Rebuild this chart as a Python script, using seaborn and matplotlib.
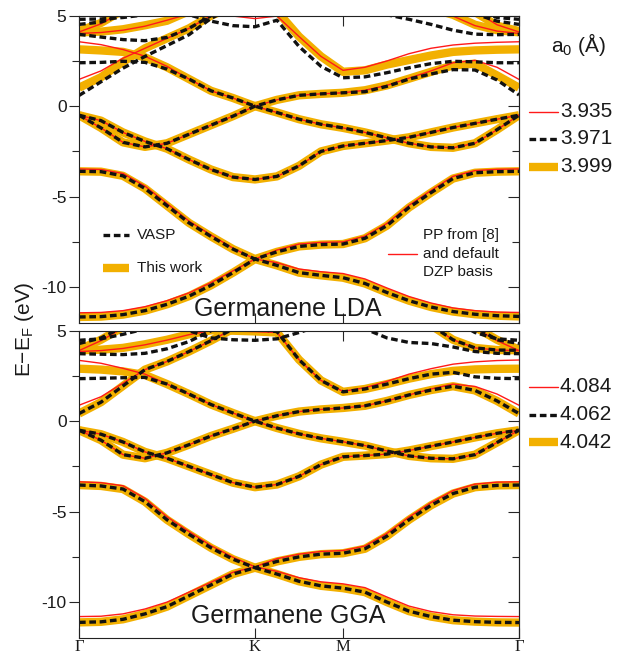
import numpy as np
import pandas as pd
import matplotlib
matplotlib.use("Agg")
import matplotlib.pyplot as plt
import seaborn as sns
from matplotlib.lines import Line2D
from matplotlib.ticker import MultipleLocator

# ---------------- data ----------------
K_PATH = [0.0, 0.25, 0.5, 0.75, 1.0, 1.25, 1.5, 1.75, 2.0, 2.25, 2.5,
          2.75, 3.0, 3.25, 3.5, 3.75, 4.0, 4.25, 4.5, 4.75, 5.0]
K_TICKS = [0, 2, 3, 5]
K_LABELS = ["Γ", "K", "M", "Γ"]
Y_TICKS = [-10, -5, 0, 5]
Y_LABELS = ["-10", "-5", "0", "5"]

# ---- Germanene LDA : "This work" (orange) ----
LW_A = [-11.65, -11.63, -11.52, -11.30, -10.95, -10.50, -9.90, -9.20, -8.45, -8.80, -9.20,
        -9.35, -9.48, -9.80, -10.30, -10.75, -11.10, -11.35, -11.50, -11.58, -11.62]
LW_B = [-3.60, -3.62, -3.85, -4.55, -5.50, -6.45, -7.20, -7.90, -8.45, -8.05, -7.75,
        -7.65, -7.62, -7.30, -6.60, -5.60, -4.78, -4.00, -3.68, -3.62, -3.60]
LW_X = [-0.50, -0.80, -1.45, -1.95, -2.35, -2.95, -3.50, -3.92, -4.05, -3.88, -3.30,
        -2.50, -2.20, -2.05, -1.90, -1.72, -1.45, -1.18, -0.95, -0.72, -0.50]
LW_Y = [-0.50, -1.20, -2.00, -2.25, -2.05, -1.55, -1.05, -0.55, 0.00, 0.35, 0.60,
        0.68, 0.74, 0.88, 1.15, 1.52, 1.90, 2.25, 2.35, 1.70, 1.02]
LW_Z = [3.14, 3.08, 3.00, 2.70, 2.15, 1.50, 0.85, 0.45, 0.00, -0.35, -0.72,
        -1.00, -1.20, -1.45, -1.75, -2.05, -2.25, -2.30, -2.05, -1.30, -0.50]
LW_C2 = [1.02, 1.60, 2.45, 3.20, 3.75, 4.30, 5.00, 5.50, 5.80, 6.00, 6.00,
         6.00, 6.00, 6.00, 6.00, 5.80, 5.40, 5.05, 4.50, 4.20, 4.08]
LW_C3 = [4.08, 4.12, 4.25, 4.47, 4.72, 5.25, 5.25, 5.25, 5.25, 5.25, 3.85,
         2.75, 1.90, 1.98, 2.30, 2.55, 2.80, 3.00, 3.08, 3.12, 3.14]
LW_C4 = [4.15, 4.60, 5.30, 6.00, 6.00, 6.00, 6.00, 6.00, 6.00, 6.00, 6.00,
         6.00, 6.00, 6.00, 6.00, 6.00, 6.00, 6.00, 5.20, 4.45, 4.15]

# ---- Germanene LDA : VASP (black dashed) ----
LV_Z = [2.40, 2.42, 2.48, 2.42, 2.05, 1.50, 0.85, 0.45, 0.00, -0.35, -0.72,
        -1.00, -1.20, -1.45, -1.75, -2.05, -2.25, -2.30, -2.05, -1.30, -0.50]
LV_Y = [-0.50, -1.20, -2.00, -2.25, -2.05, -1.55, -1.05, -0.55, 0.00, 0.35, 0.60,
        0.68, 0.74, 0.80, 1.10, 1.50, 1.78, 2.02, 2.00, 1.45, 0.62]
LV_C2 = [0.59, 1.35, 2.10, 2.75, 3.35, 3.95, 4.85, 5.50, 5.80, 6.00, 6.00,
         6.00, 6.00, 5.60, 5.05, 4.80, 4.52, 4.20, 3.98, 3.95, 3.97]
LV_C3 = [4.80, 4.82, 4.90, 5.05, 5.10, 5.05, 4.70, 4.45, 4.39, 4.75, 3.30,
         2.20, 1.57, 1.62, 1.85, 2.12, 2.35, 2.48, 2.45, 2.40, 2.40]
LV_C4 = [3.97, 3.82, 3.68, 3.62, 3.80, 4.30, 5.00, 5.50, 5.80, 6.00, 6.00,
         6.00, 6.00, 6.00, 6.00, 6.00, 6.00, 5.60, 5.10, 4.70, 4.52]
LV_C5 = [4.52, 4.65, 5.05, 5.50, 6.00, 6.00, 6.00, 6.00, 6.00, 6.00, 6.00,
         6.00, 6.00, 6.00, 6.00, 6.00, 6.00, 6.00, 5.40, 4.90, 4.80]

# ---- Germanene LDA : PP from [8] + DZP (red) ----
LR_A = [-11.42, -11.40, -11.30, -11.08, -10.75, -10.32, -9.75, -9.10, -8.45, -8.65, -9.00,
        -9.15, -9.25, -9.55, -10.05, -10.52, -10.88, -11.15, -11.30, -11.38, -11.40]
LR_B = [-3.47, -3.50, -3.72, -4.42, -5.38, -6.35, -7.12, -7.85, -8.45, -7.95, -7.62,
        -7.53, -7.50, -7.18, -6.48, -5.48, -4.66, -3.88, -3.56, -3.49, -3.47]
LR_Y = [-0.50, -1.20, -2.00, -2.25, -2.05, -1.55, -1.05, -0.55, 0.00, 0.35, 0.60,
        0.68, 0.74, 0.88, 1.15, 1.55, 1.95, 2.40, 2.53, 2.15, 1.48]
LR_Z = [3.56, 3.40, 3.13, 2.76, 2.20, 1.50, 0.85, 0.45, 0.00, -0.35, -0.72,
        -1.00, -1.20, -1.45, -1.75, -2.05, -2.25, -2.30, -2.05, -1.30, -0.50]
LR_C2 = [1.48, 1.95, 2.65, 3.20, 3.75, 4.30, 5.00, 5.50, 5.80, 6.00, 6.00,
         6.00, 6.00, 6.00, 6.00, 5.80, 5.40, 4.98, 4.45, 4.15, 4.02]
LR_C3 = [4.02, 4.07, 4.20, 4.42, 4.75, 5.10, 5.15, 4.98, 4.84, 4.98, 3.85,
         2.75, 1.98, 2.15, 2.50, 2.90, 3.20, 3.38, 3.48, 3.53, 3.56]
LR_C4 = [4.10, 4.55, 5.25, 6.00, 6.00, 6.00, 6.00, 6.00, 6.00, 6.00, 6.00,
         6.00, 6.00, 6.00, 6.00, 6.00, 6.00, 6.00, 5.25, 4.50, 4.10]

# ---- Germanene GGA : "This work" (orange) ----
GW_A = [-11.12, -11.09, -10.95, -10.65, -10.25, -9.65, -9.05, -8.45, -8.10, -8.45, -8.85,
        -9.10, -9.23, -9.45, -10.00, -10.50, -10.80, -11.00, -11.08, -11.12, -11.13]
GW_B = [-3.53, -3.58, -3.75, -4.45, -5.45, -6.25, -7.00, -7.63, -8.10, -7.75, -7.50,
        -7.35, -7.30, -7.05, -6.35, -5.45, -4.65, -4.00, -3.65, -3.55, -3.53]
GW_X = [-0.50, -0.72, -1.15, -1.70, -2.05, -2.50, -2.95, -3.40, -3.65, -3.50, -3.05,
        -2.40, -1.97, -1.90, -1.82, -1.62, -1.38, -1.15, -0.90, -0.67, -0.50]
GW_Y = [-0.50, -1.05, -1.85, -2.05, -1.75, -1.30, -0.82, -0.42, 0.00, 0.30, 0.53,
        0.65, 0.73, 0.85, 1.12, 1.45, 1.72, 1.93, 1.70, 1.12, 0.42]
GW_Z = [2.90, 2.85, 2.75, 2.55, 2.05, 1.50, 0.92, 0.45, 0.00, -0.38, -0.70,
        -0.95, -1.14, -1.35, -1.65, -1.92, -2.05, -2.08, -1.85, -1.18, -0.50]
GW_C2 = [0.42, 1.05, 1.95, 2.85, 3.30, 3.85, 4.45, 5.10, 5.60, 6.00, 6.00,
         6.00, 6.00, 6.00, 6.00, 6.00, 5.30, 4.50, 4.05, 3.93, 3.92]
GW_C3 = [3.92, 3.95, 4.05, 4.25, 4.50, 4.80, 5.02, 5.00, 4.96, 4.90, 3.40,
         2.25, 1.62, 1.78, 2.05, 2.35, 2.60, 2.78, 2.86, 2.89, 2.90]
GW_C4 = [3.95, 4.50, 5.20, 6.00, 6.00, 6.00, 6.00, 6.00, 6.00, 6.00, 6.00,
         6.00, 6.00, 6.00, 6.00, 6.00, 6.00, 6.00, 5.20, 4.50, 3.95]

# ---- Germanene GGA : VASP (black dashed) ----
GV_Z = [2.35, 2.37, 2.40, 2.42, 2.05, 1.50, 0.92, 0.45, 0.00, -0.38, -0.70,
        -0.95, -1.14, -1.35, -1.65, -1.92, -2.05, -2.08, -1.85, -1.18, -0.50]
GV_C3 = [6.00, 6.00, 6.00, 6.00, 6.00, 6.00, 5.60, 5.30, 5.10, 4.95, 3.40,
         2.25, 1.62, 1.78, 2.05, 2.35, 2.60, 2.70, 2.45, 2.37, 2.35]
GV_C5 = [4.47, 4.55, 4.80, 5.10, 5.20, 5.00, 4.60, 4.50, 4.47, 4.55, 4.90,
         5.30, 5.50, 5.10, 4.60, 4.35, 4.29, 4.10, 3.85, 3.75, 3.73]
GV_C6 = [4.29, 4.60, 5.20, 6.00, 6.00, 6.00, 6.00, 6.00, 6.00, 6.00, 6.00,
         6.00, 6.00, 6.00, 6.00, 6.00, 6.00, 5.60, 4.90, 4.55, 4.47]
GV_C7 = [3.73, 3.70, 3.68, 3.75, 4.00, 4.40, 5.00, 5.60, 6.00, 6.00, 6.00,
         6.00, 6.00, 6.00, 6.00, 6.00, 6.00, 6.00, 5.20, 4.50, 4.29]

# ---- Germanene GGA : PP from [8] + DZP (red) ----
GR_A = [-10.80, -10.78, -10.65, -10.38, -10.00, -9.45, -8.90, -8.35, -8.05, -8.30, -8.65,
        -8.88, -8.99, -9.20, -9.72, -10.22, -10.52, -10.70, -10.77, -10.79, -10.80]
GR_B = [-3.35, -3.40, -3.57, -4.27, -5.28, -6.10, -6.88, -7.52, -8.05, -7.60, -7.35,
        -7.20, -7.15, -6.90, -6.20, -5.30, -4.50, -3.84, -3.48, -3.37, -3.35]
GR_Y = [-0.50, -1.05, -1.85, -2.05, -1.75, -1.30, -0.82, -0.42, 0.00, 0.30, 0.53,
        0.65, 0.73, 0.85, 1.12, 1.45, 1.78, 2.05, 1.92, 1.50, 0.88]
GR_Z = [3.36, 3.20, 2.92, 2.60, 2.05, 1.50, 0.92, 0.45, 0.00, -0.38, -0.70,
        -0.95, -1.14, -1.35, -1.65, -1.92, -2.05, -2.08, -1.85, -1.18, -0.50]
GR_C2 = [0.88, 1.35, 2.10, 2.85, 3.30, 3.85, 4.45, 5.10, 5.60, 6.00, 6.00,
         6.00, 6.00, 6.00, 6.00, 6.00, 5.30, 4.50, 4.05, 3.93, 3.90]
GR_C3 = [3.85, 3.90, 4.02, 4.22, 4.48, 4.78, 5.00, 4.98, 4.95, 4.90, 3.40,
         2.25, 1.65, 1.85, 2.20, 2.60, 2.90, 3.15, 3.28, 3.35, 3.38]
GR_C4 = [3.90, 4.45, 5.15, 6.00, 6.00, 6.00, 6.00, 6.00, 6.00, 6.00, 6.00,
         6.00, 6.00, 6.00, 6.00, 6.00, 6.00, 6.00, 5.15, 4.45, 3.90]

LDA_WORK = [LW_A, LW_B, LW_X, LW_Y, LW_Z, LW_C2, LW_C3, LW_C4]
LDA_VASP = [LW_A, LW_B, LW_X, LV_Y, LV_Z, LV_C2, LV_C3, LV_C4, LV_C5]
LDA_PP = [LR_A, LR_B, LW_X, LR_Y, LR_Z, LR_C2, LR_C3, LR_C4]
GGA_WORK = [GW_A, GW_B, GW_X, GW_Y, GW_Z, GW_C2, GW_C3, GW_C4]
GGA_VASP = [GW_A, GW_B, GW_X, GW_Y, GV_Z, GW_C2, GV_C3, GV_C5, GV_C6, GV_C7]
GGA_PP = [GR_A, GR_B, GW_X, GR_Y, GR_Z, GR_C2, GR_C3, GR_C4]

LDA_A0 = ["3.935", "3.971", "3.999"]
GGA_A0 = ["4.084", "4.062", "4.042"]

# ---------------- styling ----------------
sns.set_style("ticks")
plt.rcParams["font.family"] = ["Liberation Sans", "DejaVu Sans"]
plt.rcParams["mathtext.fontset"] = "custom"
plt.rcParams["mathtext.rm"] = "Liberation Sans"
plt.rcParams["mathtext.it"] = "Liberation Sans"

ORANGE = "#F2B000"
RED = "#FF1A1A"
BLACK = "#111111"
TXT = "#1a1a1a"

STY_WORK = dict(color=ORANGE, lw=6.0, solid_capstyle="butt")
STY_PP = dict(color=RED, lw=1.0)
STY_VASP = dict(color=BLACK, lw=2.4, linestyle=(0, (2.0, 1.1)), dash_capstyle="butt")

W, H = 620, 655
fig = plt.figure(figsize=(W / 100, H / 100), dpi=100)


def px_box(x0, y0, x1, y1):
    return [x0 / W, 1 - y1 / H, (x1 - x0) / W, (y1 - y0) / H]


def draw_bands(ax, bands, style):
    rows = []
    for i, b in enumerate(bands):
        for k, e in zip(K_PATH, b):
            rows.append((i, k, e))
    df = pd.DataFrame(rows, columns=["band", "k", "E"])
    sns.lineplot(data=df, x="k", y="E", units="band", estimator=None,
                 sort=False, ax=ax, legend=False, **style)


def setup_axes(ax, bottom_labels):
    ax.set_xlim(0, 5)
    ax.set_ylim(-12, 5)
    ax.set_xlabel("")
    ax.set_ylabel("")
    ax.set_xticks(K_TICKS)
    ax.set_xticklabels(K_LABELS if bottom_labels else [],
                       fontfamily="Liberation Serif", fontsize=12)
    ax.tick_params(axis="x", direction="in", top=True, bottom=True,
                   length=7, width=0.8, pad=0.5, labelcolor=TXT)
    ax.set_yticks(Y_TICKS)
    ax.set_yticklabels(Y_LABELS, fontsize=12.5)
    ax.yaxis.set_minor_locator(MultipleLocator(2.5))
    ax.tick_params(axis="y", which="major", direction="out", left=True,
                   right=False, length=7, width=0.8, pad=2, labelcolor=TXT)
    ax.tick_params(axis="y", which="minor", direction="out", left=True,
                   right=False, length=5, width=0.8)
    sec = ax.secondary_yaxis("right")
    sec.set_yticks(Y_TICKS)
    sec.yaxis.set_minor_locator(MultipleLocator(2.5))
    sec.tick_params(axis="y", which="major", direction="in", length=8,
                    width=0.8, labelright=False)
    sec.tick_params(axis="y", which="minor", direction="in", length=5,
                    width=0.8)
    sec.spines["right"].set_linewidth(0.8)
    for s in ax.spines.values():
        s.set_linewidth(0.8)
        s.set_color("#222222")


ax1 = fig.add_axes(px_box(79, 15.7, 519, 323.3))
ax2 = fig.add_axes(px_box(79, 330.7, 519, 638.3))

for ax, work, pp, vasp in [(ax1, LDA_WORK, LDA_PP, LDA_VASP),
                           (ax2, GGA_WORK, GGA_PP, GGA_VASP)]:
    draw_bands(ax, work, STY_WORK)
    draw_bands(ax, pp, STY_PP)
    draw_bands(ax, vasp, STY_VASP)

setup_axes(ax1, False)
setup_axes(ax2, True)

ax1.text(2.37, -11.62, "Germanene LDA", fontsize=18, ha="center",
         va="baseline", color=TXT)
ax2.text(2.38, -11.16, "Germanene GGA", fontsize=18, ha="center",
         va="baseline", color=TXT)


def fig_line(x0, x1, y, style):
    st = dict(style)
    fig.add_artist(Line2D([x0 / W, x1 / W], [1 - y / H, 1 - y / H],
                          transform=fig.transFigure, **st))


def fig_text(x, y, s, **kw):
    fig.text(x / W, 1 - y / H, s, color=TXT, **kw)


# inner legends (top panel)
fig_line(103, 129, 235, STY_VASP)
fig_text(137, 235, "VASP", fontsize=11, va="center", ha="left")
fig_line(103, 129, 268, STY_WORK)
fig_text(137, 268, "This work", fontsize=11, va="center", ha="left")
fig_line(388, 417, 253.5, STY_PP)
fig_text(423, 235, "PP from [8]", fontsize=11, va="center", ha="left")
fig_text(423, 253.5, "and default", fontsize=11, va="center", ha="left")
fig_text(423, 272, "DZP basis", fontsize=11, va="center", ha="left")

# right-hand lattice constant legends
fig_text(578, 45, r"a$_0$ (Å)", fontsize=15, va="center", ha="center")
for ys, labels in [((111.5, 138.5, 166.5), LDA_A0),
                   ((387, 414.5, 442), GGA_A0)]:
    for y, lab, st in zip(ys, labels, [STY_PP, STY_VASP, STY_WORK]):
        fig_line(529, 558, y, st)
        fig_text(560, y, lab, fontsize=15, va="center", ha="left")

fig_text(24, 329, r"E$-$E$_\mathregular{F}$ (eV)", fontsize=15, rotation=90,
         va="center", ha="center")

fig.savefig("out.png", dpi=100)
